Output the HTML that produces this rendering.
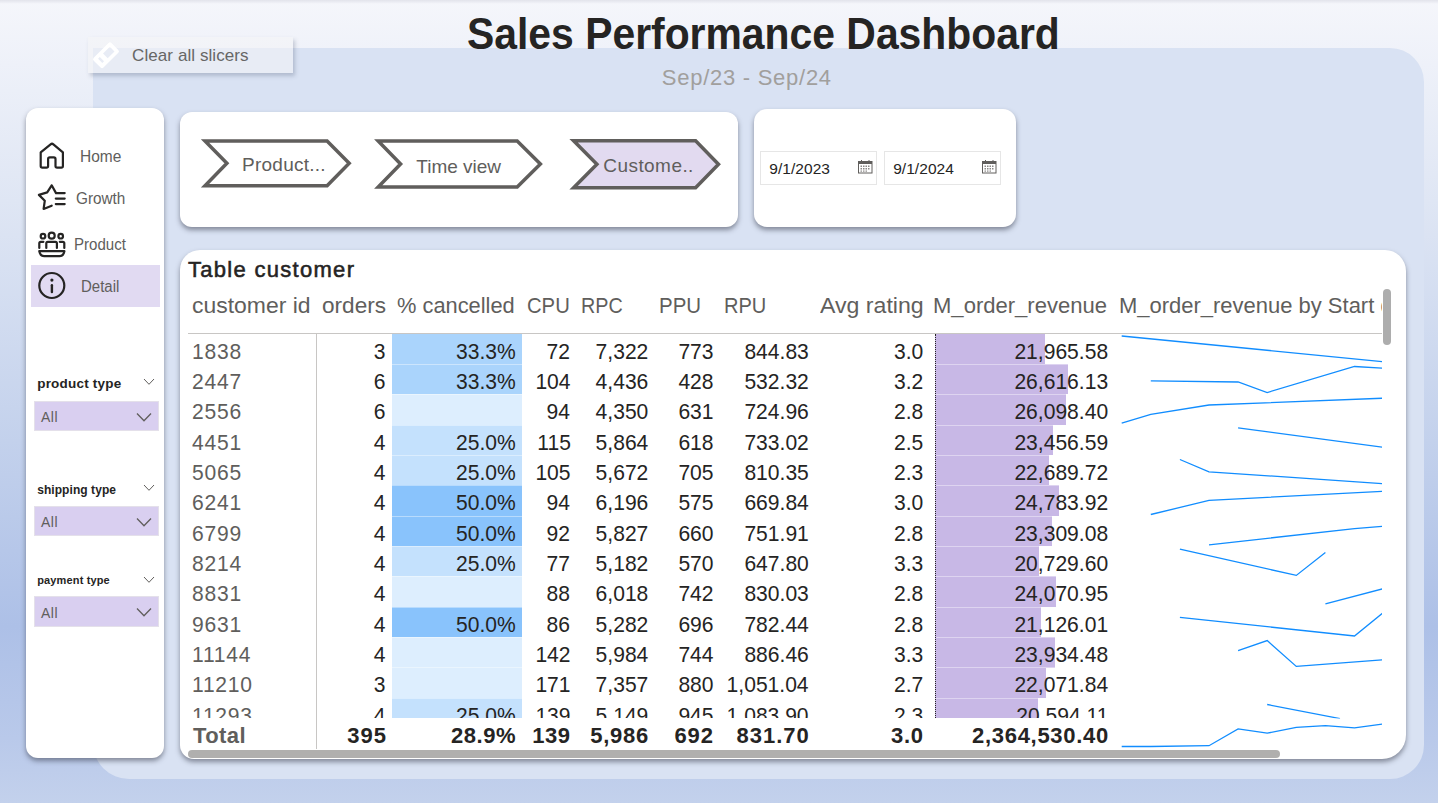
<!DOCTYPE html>
<html><head><meta charset="utf-8"><title>Sales Performance Dashboard</title>
<style>
*{margin:0;padding:0;box-sizing:border-box}
html,body{width:1438px;height:803px;overflow:hidden}
body{font-family:"Liberation Sans",sans-serif;position:relative;
background:linear-gradient(180deg,#f5f6fb 0%,#eef1f9 8%,#dfe6f4 25%,#c3d1ec 55%,#adc0e7 78%,#b9c9ea 92%,#c3d1ec 100%);}
.t{position:absolute;white-space:nowrap;line-height:normal}
.abs{position:absolute}
.card{position:absolute;background:#fff;box-shadow:0 3px 5px rgba(45,50,65,0.5)}
</style></head><body>

<div class="abs" style="left:0;top:0;width:1438px;height:4px;background:linear-gradient(180deg,#e2e3eb,rgba(240,242,249,0))"></div>
<div class="abs" style="left:93px;top:48px;width:1331px;height:731px;border-radius:0 34px 34px 36px;background:#d9e2f3"></div>
<div class="t" style="left:467.02px;top:9.53px;font-size:43.5px;color:#252423;font-weight:700;transform:scaleX(0.9395);transform-origin:0 0;">Sales Performance Dashboard</div>
<div class="t" style="left:661.80px;top:65.09px;font-size:22px;color:#a19f9d;font-weight:400;letter-spacing:0.736px;">Sep/23 - Sep/24</div>
<div class="abs" style="left:88px;top:37px;width:205px;height:36px;background:rgba(244,244,246,0.55);box-shadow:2px 3px 4px rgba(60,70,100,0.25)"></div>
<svg class="abs" style="left:88px;top:37px" width="40" height="36" viewBox="88 37 40 36">
<g transform="translate(106 55.3) rotate(-45)"><path fill="#fff" fill-rule="evenodd" d="M-10.5 -6.9 H10.5 Q12.5 -6.9 12.5 -4.9 V4.9 Q12.5 6.9 10.5 6.9 H-10.5 Q-12.5 6.9 -12.5 4.9 V-4.9 Q-12.5 -6.9 -10.5 -6.9 Z M-0.9 -3.3 V3.3 H8.7 V-3.3 Z M-8 -3.2 V2.8 H-5.6 V-3.2 Z"/></g></svg>
<div class="t" style="left:132.10px;top:46.32px;font-size:17px;color:#666666;font-weight:400;letter-spacing:0.075px;">Clear all slicers</div>
<div class="card" style="left:26px;top:108px;width:138px;height:650px;border-radius:12px"></div>
<div class="abs" style="left:31px;top:265px;width:129px;height:42px;background:#e1daf2"></div>
<svg class="abs" style="left:0;top:0" width="170" height="310" viewBox="0 0 170 310">
<path fill="none" stroke="#252423" stroke-width="2.2" stroke-linecap="round" stroke-linejoin="round" d="M40.7 152.3 L50.6 144.3 Q52 143.2 53.4 144.3 L62.9 152.3 L62.9 166 Q62.9 167.6 61.3 167.6 L57.1 167.6 Q55.5 167.6 55.5 166 L55.5 159 Q55.5 157.3 53.8 157.3 L49.8 157.3 Q48.1 157.3 48.1 159 L48.1 166 Q48.1 167.6 46.5 167.6 L42.3 167.6 Q40.7 167.6 40.7 166 Z"/>
<path fill="none" stroke="#252423" stroke-width="2.2" stroke-linecap="round" stroke-linejoin="round" d="M64.7 193.1 L56 193.1 L51.7 185.3 L47.2 192.4 L38.9 194.9 L44.8 200.7 L43.6 209 L51.7 205.7"/>
<path fill="none" stroke="#252423" stroke-width="2.2" stroke-linecap="round" stroke-linejoin="round" d="M55.8 198.6 L64.7 198.6 M55.8 204.1 L64.7 204.1"/>
<circle fill="none" stroke="#252423" stroke-width="2.2" stroke-linecap="round" stroke-linejoin="round" cx="43" cy="236.2" r="2.3"/>
<circle fill="none" stroke="#252423" stroke-width="2.2" stroke-linecap="round" stroke-linejoin="round" cx="51.7" cy="235.7" r="3"/>
<circle fill="none" stroke="#252423" stroke-width="2.2" stroke-linecap="round" stroke-linejoin="round" cx="60.7" cy="236.2" r="2.3"/>
<path fill="none" stroke="#252423" stroke-width="2.2" stroke-linecap="round" stroke-linejoin="round" d="M39.3 248 L39.3 243.3 Q39.3 241.8 40.8 241.8 L43.4 241.8 M46.3 248 L46.3 243.3 Q46.3 241.8 47.8 241.8 L55.4 241.8 Q56.9 241.8 56.9 243.3 L56.9 248 M59.8 241.8 L62.8 241.8 Q64.3 241.8 64.3 243.3 L64.3 248"/>
<path fill="none" stroke="#252423" stroke-width="2.2" stroke-linecap="round" stroke-linejoin="round" d="M39.3 251.2 L64.4 251.2 Q63.5 256.1 59.5 256.1 L44.2 256.1 Q40.2 256.1 39.3 251.2 Z"/>
<circle fill="none" stroke="#252423" stroke-width="2.2" stroke-linecap="round" stroke-linejoin="round" cx="51.8" cy="285.5" r="12.5"/>
<circle cx="51.9" cy="280.1" r="1.6" fill="#252423"/>
<path fill="none" stroke="#252423" stroke-width="2.4" stroke-linecap="round" d="M51.9 285.2 L51.9 292"/>
</svg>
<div class="t" style="left:79.52px;top:147.90px;font-size:15.8px;color:#605e5c;font-weight:400;transform:scaleX(0.9800);transform-origin:0 0;">Home</div>
<div class="t" style="left:75.53px;top:189.90px;font-size:15.8px;color:#605e5c;font-weight:400;transform:scaleX(0.9694);transform-origin:0 0;">Growth</div>
<div class="t" style="left:73.85px;top:235.90px;font-size:15.8px;color:#605e5c;font-weight:400;transform:scaleX(0.9528);transform-origin:0 0;">Product</div>
<div class="t" style="left:80.65px;top:277.60px;font-size:15.8px;color:#605e5c;font-weight:400;transform:scaleX(0.9487);transform-origin:0 0;">Detail</div>
<div class="t" style="left:37.20px;top:375.78px;font-size:13.5px;color:#252423;font-weight:700;letter-spacing:0.209px;">product type</div>
<svg class="abs" style="left:140px;top:376px" width="18" height="12" viewBox="0 0 18 12"><path d="M4 3 L9 8.3 L14 3" fill="none" stroke="#605e5c" stroke-width="1"/></svg>
<div class="abs" style="left:34px;top:400.5px;width:124.5px;height:30.2px;background:#d9cff0;border:1.5px solid #e4e0ea"></div>
<div class="t" style="left:41.00px;top:409.33px;font-size:14px;color:#605e5c;font-weight:400;letter-spacing:0.500px;">All</div>
<svg class="abs" style="left:133px;top:408.5px" width="22" height="16" viewBox="0 0 22 16"><path d="M4 4.5 L11 11.7 L18 4.5" fill="none" stroke="#605e5c" stroke-width="1.3"/></svg>
<div class="t" style="left:37.20px;top:482.54px;font-size:12px;color:#252423;font-weight:700;letter-spacing:0.067px;">shipping type</div>
<svg class="abs" style="left:140px;top:481.5px" width="18" height="12" viewBox="0 0 18 12"><path d="M4 3 L9 8.3 L14 3" fill="none" stroke="#605e5c" stroke-width="1"/></svg>
<div class="abs" style="left:34px;top:505.5px;width:124.5px;height:30px;background:#d9cff0;border:1.5px solid #e4e0ea"></div>
<div class="t" style="left:41.00px;top:514.33px;font-size:14px;color:#605e5c;font-weight:400;letter-spacing:0.500px;">All</div>
<svg class="abs" style="left:133px;top:513.5px" width="22" height="16" viewBox="0 0 22 16"><path d="M4 4.5 L11 11.7 L18 4.5" fill="none" stroke="#605e5c" stroke-width="1.3"/></svg>
<div class="t" style="left:37.20px;top:574.34px;font-size:11px;color:#252423;font-weight:700;letter-spacing:0.145px;">payment type</div>
<svg class="abs" style="left:140px;top:574px" width="18" height="12" viewBox="0 0 18 12"><path d="M4 3 L9 8.3 L14 3" fill="none" stroke="#605e5c" stroke-width="1"/></svg>
<div class="abs" style="left:34px;top:596px;width:124.5px;height:30.7px;background:#d9cff0;border:1.5px solid #e4e0ea"></div>
<div class="t" style="left:41.00px;top:604.83px;font-size:14px;color:#605e5c;font-weight:400;letter-spacing:0.500px;">All</div>
<svg class="abs" style="left:133px;top:604px" width="22" height="16" viewBox="0 0 22 16"><path d="M4 4.5 L11 11.7 L18 4.5" fill="none" stroke="#605e5c" stroke-width="1.3"/></svg>
<div class="card" style="left:180px;top:112px;width:558px;height:114.5px;border-radius:12px"></div>
<svg class="abs" style="left:0;top:0" width="760" height="240" viewBox="0 0 760 240"><path d="M205.0 140.9 L327.1 140.9 L349.2 163.3 L327.1 185.8 L205.0 185.8 L226.9 163.3 Z" fill="#fff" stroke="#605e5c" stroke-width="3.5" stroke-linejoin="miter"/><path d="M378.2 140.9 L517.2 140.9 L540.4 164.0 L517.2 187.1 L378.2 187.1 L400.6 164.0 Z" fill="#fff" stroke="#605e5c" stroke-width="3.5" stroke-linejoin="miter"/><path d="M573.6 140.8 L695.6 140.8 L718.5 164.3 L695.6 187.8 L573.6 187.8 L596.9 164.3 Z" fill="#e2daf0" stroke="#605e5c" stroke-width="3.5" stroke-linejoin="miter"/></svg>
<div class="t" style="left:242.00px;top:154.31px;font-size:19px;color:#605e5c;font-weight:400;letter-spacing:0.256px;">Product...</div>
<div class="t" style="left:416.30px;top:155.71px;font-size:19px;color:#605e5c;font-weight:400;letter-spacing:-0.013px;">Time view</div>
<div class="t" style="left:603.30px;top:155.41px;font-size:19px;color:#605e5c;font-weight:400;letter-spacing:0.438px;">Custome..</div>
<div class="card" style="left:754px;top:109px;width:262px;height:117.5px;border-radius:13px"></div>
<div class="abs" style="left:760px;top:150.6px;width:116.5px;height:34px;border:1px solid #e6e6e6"></div>
<div class="abs" style="left:884px;top:150.6px;width:116.5px;height:34px;border:1px solid #e6e6e6"></div>
<div class="t" style="left:769.30px;top:160.07px;font-size:15.5px;color:#252423;font-weight:400;letter-spacing:0.043px;">9/1/2023</div>
<div class="t" style="left:893.20px;top:160.07px;font-size:15.5px;color:#252423;font-weight:400;letter-spacing:0.043px;">9/1/2024</div>
<svg class="abs" style="left:858px;top:159.5px" width="15" height="14" viewBox="0 0 15 14">
<rect x="0.5" y="1.5" width="13.5" height="11.5" fill="none" stroke="#605e5c" stroke-width="1"/>
<rect x="0.5" y="1.5" width="13.5" height="2.5" fill="#605e5c"/>
<path d="M3.5 0 V2 M11 0 V2" stroke="#605e5c" stroke-width="1"/>
<g fill="#8a8886"><rect x="2.5" y="5.5" width="1.5" height="1.5"/><rect x="5" y="5.5" width="1.5" height="1.5"/><rect x="7.5" y="5.5" width="1.5" height="1.5"/><rect x="10" y="5.5" width="1.5" height="1.5"/>
<rect x="2.5" y="8" width="1.5" height="1.5"/><rect x="5" y="8" width="1.5" height="1.5"/><rect x="7.5" y="8" width="1.5" height="1.5"/><rect x="10" y="8" width="1.5" height="1.5"/>
<rect x="2.5" y="10.5" width="1.5" height="1.2"/><rect x="5" y="10.5" width="1.5" height="1.2"/><rect x="7.5" y="10.5" width="1.5" height="1.2"/></g></svg>
<svg class="abs" style="left:982px;top:159.5px" width="15" height="14" viewBox="0 0 15 14">
<rect x="0.5" y="1.5" width="13.5" height="11.5" fill="none" stroke="#605e5c" stroke-width="1"/>
<rect x="0.5" y="1.5" width="13.5" height="2.5" fill="#605e5c"/>
<path d="M3.5 0 V2 M11 0 V2" stroke="#605e5c" stroke-width="1"/>
<g fill="#8a8886"><rect x="2.5" y="5.5" width="1.5" height="1.5"/><rect x="5" y="5.5" width="1.5" height="1.5"/><rect x="7.5" y="5.5" width="1.5" height="1.5"/><rect x="10" y="5.5" width="1.5" height="1.5"/>
<rect x="2.5" y="8" width="1.5" height="1.5"/><rect x="5" y="8" width="1.5" height="1.5"/><rect x="7.5" y="8" width="1.5" height="1.5"/><rect x="10" y="8" width="1.5" height="1.5"/>
<rect x="2.5" y="10.5" width="1.5" height="1.2"/><rect x="5" y="10.5" width="1.5" height="1.2"/><rect x="7.5" y="10.5" width="1.5" height="1.2"/></g></svg>
<div class="card" style="left:180px;top:250px;width:1226px;height:509px;border-radius:20px 21px 24px 14px"></div>
<div class="t" style="left:187.90px;top:257.49px;font-size:22px;color:#252423;font-weight:400;letter-spacing:1.300px;-webkit-text-stroke:0.55px #252423;">Table customer</div>
<div class="t" style="left:192.16px;top:292.99px;font-size:22px;color:#605e5c;font-weight:400;transform:scaleX(1.0432);transform-origin:0 0;">customer id</div>
<div class="t" style="left:321.77px;top:292.99px;font-size:22px;color:#605e5c;font-weight:400;transform:scaleX(1.0262);transform-origin:0 0;">orders</div>
<div class="t" style="left:397.41px;top:292.99px;font-size:22px;color:#605e5c;font-weight:400;transform:scaleX(0.9922);transform-origin:0 0;">% cancelled</div>
<div class="t" style="left:526.78px;top:292.99px;font-size:22px;color:#605e5c;font-weight:400;transform:scaleX(0.9205);transform-origin:0 0;">CPU</div>
<div class="t" style="left:580.60px;top:292.99px;font-size:22px;color:#605e5c;font-weight:400;transform:scaleX(0.8977);transform-origin:0 0;">RPC</div>
<div class="t" style="left:658.54px;top:292.99px;font-size:22px;color:#605e5c;font-weight:400;transform:scaleX(0.9310);transform-origin:0 0;">PPU</div>
<div class="t" style="left:724.18px;top:292.99px;font-size:22px;color:#605e5c;font-weight:400;transform:scaleX(0.9116);transform-origin:0 0;">RPU</div>
<div class="t" style="left:819.80px;top:292.99px;font-size:22px;color:#605e5c;font-weight:400;transform:scaleX(1.0505);transform-origin:0 0;">Avg rating</div>
<div class="t" style="left:933.30px;top:292.99px;font-size:22px;color:#605e5c;font-weight:400;transform:scaleX(1.0023);transform-origin:0 0;">M_order_revenue</div>
<div class="abs" style="left:1120px;top:280px;width:262px;height:45px;overflow:hidden"><div class="t" style="left:-1.10px;top:12.99px;font-size:22px;color:#605e5c;font-weight:400;transform:scaleX(0.9988);transform-origin:0 0;">M_order_revenue by Start date</div></div>
<div class="abs" style="left:188px;top:332.5px;width:1194px;height:1px;background:#c8c6c4"></div>
<div class="abs" style="left:180px;top:333.5px;width:1210px;height:384.9px;overflow:hidden">
<div class="abs" style="left:212.2px;top:0.00px;width:129.7px;height:30.55px;background:#aad4fc"></div>
<div class="abs" style="left:755.3px;top:0.00px;width:109.9px;height:30.55px;background:#c8b8e6"></div>
<div class="t" style="left:12.3px;top:5.14px;font-size:22.5px;color:#605e5c;letter-spacing:0.8px;transform:scaleX(0.936);transform-origin:0 0">1838</div>
<div class="t" style="right:1004.0px;top:5.14px;font-size:22.5px;color:#252423;transform:scaleX(0.936);transform-origin:100% 0">3</div>
<div class="t" style="right:873.9px;top:5.14px;font-size:22.5px;color:#252423;transform:scaleX(0.936);transform-origin:100% 0">33.3%</div>
<div class="t" style="right:819.6px;top:5.14px;font-size:22.5px;color:#252423;transform:scaleX(0.936);transform-origin:100% 0">72</div>
<div class="t" style="right:742.1px;top:5.14px;font-size:22.5px;color:#252423;transform:scaleX(0.936);transform-origin:100% 0">7,322</div>
<div class="t" style="right:676.9px;top:5.14px;font-size:22.5px;color:#252423;transform:scaleX(0.936);transform-origin:100% 0">773</div>
<div class="t" style="right:581.5px;top:5.14px;font-size:22.5px;color:#252423;transform:scaleX(0.936);transform-origin:100% 0">844.83</div>
<div class="t" style="right:466.8px;top:5.14px;font-size:22.5px;color:#252423;transform:scaleX(0.936);transform-origin:100% 0">3.0</div>
<div class="t" style="right:282.0px;top:5.14px;font-size:22.5px;color:#252423;transform:scaleX(0.936);transform-origin:100% 0">21,965.58</div>
<div class="abs" style="left:212.2px;top:30.35px;width:129.7px;height:30.55px;background:#aad4fc"></div>
<div class="abs" style="left:755.3px;top:30.35px;width:133.2px;height:30.55px;background:#c8b8e6"></div>
<div class="abs" style="left:212.2px;top:30.35px;width:129.7px;height:1px;background:rgba(255,255,255,0.4)"></div>
<div class="abs" style="left:755.3px;top:30.35px;width:133.2px;height:1px;background:rgba(255,255,255,0.4)"></div>
<div class="t" style="left:12.3px;top:35.49px;font-size:22.5px;color:#605e5c;letter-spacing:0.8px;transform:scaleX(0.936);transform-origin:0 0">2447</div>
<div class="t" style="right:1004.0px;top:35.49px;font-size:22.5px;color:#252423;transform:scaleX(0.936);transform-origin:100% 0">6</div>
<div class="t" style="right:873.9px;top:35.49px;font-size:22.5px;color:#252423;transform:scaleX(0.936);transform-origin:100% 0">33.3%</div>
<div class="t" style="right:819.6px;top:35.49px;font-size:22.5px;color:#252423;transform:scaleX(0.936);transform-origin:100% 0">104</div>
<div class="t" style="right:742.1px;top:35.49px;font-size:22.5px;color:#252423;transform:scaleX(0.936);transform-origin:100% 0">4,436</div>
<div class="t" style="right:676.9px;top:35.49px;font-size:22.5px;color:#252423;transform:scaleX(0.936);transform-origin:100% 0">428</div>
<div class="t" style="right:581.5px;top:35.49px;font-size:22.5px;color:#252423;transform:scaleX(0.936);transform-origin:100% 0">532.32</div>
<div class="t" style="right:466.8px;top:35.49px;font-size:22.5px;color:#252423;transform:scaleX(0.936);transform-origin:100% 0">3.2</div>
<div class="t" style="right:282.0px;top:35.49px;font-size:22.5px;color:#252423;transform:scaleX(0.936);transform-origin:100% 0">26,616.13</div>
<div class="abs" style="left:212.2px;top:60.70px;width:129.7px;height:30.55px;background:#ddeefe"></div>
<div class="abs" style="left:755.3px;top:60.70px;width:130.6px;height:30.55px;background:#c8b8e6"></div>
<div class="abs" style="left:212.2px;top:60.70px;width:129.7px;height:1px;background:rgba(255,255,255,0.4)"></div>
<div class="abs" style="left:755.3px;top:60.70px;width:133.2px;height:1px;background:rgba(255,255,255,0.4)"></div>
<div class="t" style="left:12.3px;top:65.84px;font-size:22.5px;color:#605e5c;letter-spacing:0.8px;transform:scaleX(0.936);transform-origin:0 0">2556</div>
<div class="t" style="right:1004.0px;top:65.84px;font-size:22.5px;color:#252423;transform:scaleX(0.936);transform-origin:100% 0">6</div>
<div class="t" style="right:819.6px;top:65.84px;font-size:22.5px;color:#252423;transform:scaleX(0.936);transform-origin:100% 0">94</div>
<div class="t" style="right:742.1px;top:65.84px;font-size:22.5px;color:#252423;transform:scaleX(0.936);transform-origin:100% 0">4,350</div>
<div class="t" style="right:676.9px;top:65.84px;font-size:22.5px;color:#252423;transform:scaleX(0.936);transform-origin:100% 0">631</div>
<div class="t" style="right:581.5px;top:65.84px;font-size:22.5px;color:#252423;transform:scaleX(0.936);transform-origin:100% 0">724.96</div>
<div class="t" style="right:466.8px;top:65.84px;font-size:22.5px;color:#252423;transform:scaleX(0.936);transform-origin:100% 0">2.8</div>
<div class="t" style="right:282.0px;top:65.84px;font-size:22.5px;color:#252423;transform:scaleX(0.936);transform-origin:100% 0">26,098.40</div>
<div class="abs" style="left:212.2px;top:91.05px;width:129.7px;height:30.55px;background:#c4e1fd"></div>
<div class="abs" style="left:755.3px;top:91.05px;width:117.4px;height:30.55px;background:#c8b8e6"></div>
<div class="abs" style="left:212.2px;top:91.05px;width:129.7px;height:1px;background:rgba(255,255,255,0.4)"></div>
<div class="abs" style="left:755.3px;top:91.05px;width:130.6px;height:1px;background:rgba(255,255,255,0.4)"></div>
<div class="t" style="left:12.3px;top:96.19px;font-size:22.5px;color:#605e5c;letter-spacing:0.8px;transform:scaleX(0.936);transform-origin:0 0">4451</div>
<div class="t" style="right:1004.0px;top:96.19px;font-size:22.5px;color:#252423;transform:scaleX(0.936);transform-origin:100% 0">4</div>
<div class="t" style="right:873.9px;top:96.19px;font-size:22.5px;color:#252423;transform:scaleX(0.936);transform-origin:100% 0">25.0%</div>
<div class="t" style="right:819.6px;top:96.19px;font-size:22.5px;color:#252423;transform:scaleX(0.936);transform-origin:100% 0">115</div>
<div class="t" style="right:742.1px;top:96.19px;font-size:22.5px;color:#252423;transform:scaleX(0.936);transform-origin:100% 0">5,864</div>
<div class="t" style="right:676.9px;top:96.19px;font-size:22.5px;color:#252423;transform:scaleX(0.936);transform-origin:100% 0">618</div>
<div class="t" style="right:581.5px;top:96.19px;font-size:22.5px;color:#252423;transform:scaleX(0.936);transform-origin:100% 0">733.02</div>
<div class="t" style="right:466.8px;top:96.19px;font-size:22.5px;color:#252423;transform:scaleX(0.936);transform-origin:100% 0">2.5</div>
<div class="t" style="right:282.0px;top:96.19px;font-size:22.5px;color:#252423;transform:scaleX(0.936);transform-origin:100% 0">23,456.59</div>
<div class="abs" style="left:212.2px;top:121.40px;width:129.7px;height:30.55px;background:#c4e1fd"></div>
<div class="abs" style="left:755.3px;top:121.40px;width:113.5px;height:30.55px;background:#c8b8e6"></div>
<div class="abs" style="left:212.2px;top:121.40px;width:129.7px;height:1px;background:rgba(255,255,255,0.4)"></div>
<div class="abs" style="left:755.3px;top:121.40px;width:117.4px;height:1px;background:rgba(255,255,255,0.4)"></div>
<div class="t" style="left:12.3px;top:126.54px;font-size:22.5px;color:#605e5c;letter-spacing:0.8px;transform:scaleX(0.936);transform-origin:0 0">5065</div>
<div class="t" style="right:1004.0px;top:126.54px;font-size:22.5px;color:#252423;transform:scaleX(0.936);transform-origin:100% 0">4</div>
<div class="t" style="right:873.9px;top:126.54px;font-size:22.5px;color:#252423;transform:scaleX(0.936);transform-origin:100% 0">25.0%</div>
<div class="t" style="right:819.6px;top:126.54px;font-size:22.5px;color:#252423;transform:scaleX(0.936);transform-origin:100% 0">105</div>
<div class="t" style="right:742.1px;top:126.54px;font-size:22.5px;color:#252423;transform:scaleX(0.936);transform-origin:100% 0">5,672</div>
<div class="t" style="right:676.9px;top:126.54px;font-size:22.5px;color:#252423;transform:scaleX(0.936);transform-origin:100% 0">705</div>
<div class="t" style="right:581.5px;top:126.54px;font-size:22.5px;color:#252423;transform:scaleX(0.936);transform-origin:100% 0">810.35</div>
<div class="t" style="right:466.8px;top:126.54px;font-size:22.5px;color:#252423;transform:scaleX(0.936);transform-origin:100% 0">2.3</div>
<div class="t" style="right:282.0px;top:126.54px;font-size:22.5px;color:#252423;transform:scaleX(0.936);transform-origin:100% 0">22,689.72</div>
<div class="abs" style="left:212.2px;top:151.75px;width:129.7px;height:30.55px;background:#89c3fc"></div>
<div class="abs" style="left:755.3px;top:151.75px;width:124.0px;height:30.55px;background:#c8b8e6"></div>
<div class="abs" style="left:212.2px;top:151.75px;width:129.7px;height:1px;background:rgba(255,255,255,0.4)"></div>
<div class="abs" style="left:755.3px;top:151.75px;width:124.0px;height:1px;background:rgba(255,255,255,0.4)"></div>
<div class="t" style="left:12.3px;top:156.89px;font-size:22.5px;color:#605e5c;letter-spacing:0.8px;transform:scaleX(0.936);transform-origin:0 0">6241</div>
<div class="t" style="right:1004.0px;top:156.89px;font-size:22.5px;color:#252423;transform:scaleX(0.936);transform-origin:100% 0">4</div>
<div class="t" style="right:873.9px;top:156.89px;font-size:22.5px;color:#252423;transform:scaleX(0.936);transform-origin:100% 0">50.0%</div>
<div class="t" style="right:819.6px;top:156.89px;font-size:22.5px;color:#252423;transform:scaleX(0.936);transform-origin:100% 0">94</div>
<div class="t" style="right:742.1px;top:156.89px;font-size:22.5px;color:#252423;transform:scaleX(0.936);transform-origin:100% 0">6,196</div>
<div class="t" style="right:676.9px;top:156.89px;font-size:22.5px;color:#252423;transform:scaleX(0.936);transform-origin:100% 0">575</div>
<div class="t" style="right:581.5px;top:156.89px;font-size:22.5px;color:#252423;transform:scaleX(0.936);transform-origin:100% 0">669.84</div>
<div class="t" style="right:466.8px;top:156.89px;font-size:22.5px;color:#252423;transform:scaleX(0.936);transform-origin:100% 0">3.0</div>
<div class="t" style="right:282.0px;top:156.89px;font-size:22.5px;color:#252423;transform:scaleX(0.936);transform-origin:100% 0">24,783.92</div>
<div class="abs" style="left:212.2px;top:182.10px;width:129.7px;height:30.55px;background:#89c3fc"></div>
<div class="abs" style="left:755.3px;top:182.10px;width:116.6px;height:30.55px;background:#c8b8e6"></div>
<div class="abs" style="left:212.2px;top:182.10px;width:129.7px;height:1px;background:rgba(255,255,255,0.4)"></div>
<div class="abs" style="left:755.3px;top:182.10px;width:124.0px;height:1px;background:rgba(255,255,255,0.4)"></div>
<div class="t" style="left:12.3px;top:187.24px;font-size:22.5px;color:#605e5c;letter-spacing:0.8px;transform:scaleX(0.936);transform-origin:0 0">6799</div>
<div class="t" style="right:1004.0px;top:187.24px;font-size:22.5px;color:#252423;transform:scaleX(0.936);transform-origin:100% 0">4</div>
<div class="t" style="right:873.9px;top:187.24px;font-size:22.5px;color:#252423;transform:scaleX(0.936);transform-origin:100% 0">50.0%</div>
<div class="t" style="right:819.6px;top:187.24px;font-size:22.5px;color:#252423;transform:scaleX(0.936);transform-origin:100% 0">92</div>
<div class="t" style="right:742.1px;top:187.24px;font-size:22.5px;color:#252423;transform:scaleX(0.936);transform-origin:100% 0">5,827</div>
<div class="t" style="right:676.9px;top:187.24px;font-size:22.5px;color:#252423;transform:scaleX(0.936);transform-origin:100% 0">660</div>
<div class="t" style="right:581.5px;top:187.24px;font-size:22.5px;color:#252423;transform:scaleX(0.936);transform-origin:100% 0">751.91</div>
<div class="t" style="right:466.8px;top:187.24px;font-size:22.5px;color:#252423;transform:scaleX(0.936);transform-origin:100% 0">2.8</div>
<div class="t" style="right:282.0px;top:187.24px;font-size:22.5px;color:#252423;transform:scaleX(0.936);transform-origin:100% 0">23,309.08</div>
<div class="abs" style="left:212.2px;top:212.45px;width:129.7px;height:30.55px;background:#c4e1fd"></div>
<div class="abs" style="left:755.3px;top:212.45px;width:103.7px;height:30.55px;background:#c8b8e6"></div>
<div class="abs" style="left:212.2px;top:212.45px;width:129.7px;height:1px;background:rgba(255,255,255,0.4)"></div>
<div class="abs" style="left:755.3px;top:212.45px;width:116.6px;height:1px;background:rgba(255,255,255,0.4)"></div>
<div class="t" style="left:12.3px;top:217.59px;font-size:22.5px;color:#605e5c;letter-spacing:0.8px;transform:scaleX(0.936);transform-origin:0 0">8214</div>
<div class="t" style="right:1004.0px;top:217.59px;font-size:22.5px;color:#252423;transform:scaleX(0.936);transform-origin:100% 0">4</div>
<div class="t" style="right:873.9px;top:217.59px;font-size:22.5px;color:#252423;transform:scaleX(0.936);transform-origin:100% 0">25.0%</div>
<div class="t" style="right:819.6px;top:217.59px;font-size:22.5px;color:#252423;transform:scaleX(0.936);transform-origin:100% 0">77</div>
<div class="t" style="right:742.1px;top:217.59px;font-size:22.5px;color:#252423;transform:scaleX(0.936);transform-origin:100% 0">5,182</div>
<div class="t" style="right:676.9px;top:217.59px;font-size:22.5px;color:#252423;transform:scaleX(0.936);transform-origin:100% 0">570</div>
<div class="t" style="right:581.5px;top:217.59px;font-size:22.5px;color:#252423;transform:scaleX(0.936);transform-origin:100% 0">647.80</div>
<div class="t" style="right:466.8px;top:217.59px;font-size:22.5px;color:#252423;transform:scaleX(0.936);transform-origin:100% 0">3.3</div>
<div class="t" style="right:282.0px;top:217.59px;font-size:22.5px;color:#252423;transform:scaleX(0.936);transform-origin:100% 0">20,729.60</div>
<div class="abs" style="left:212.2px;top:242.80px;width:129.7px;height:30.55px;background:#ddeefe"></div>
<div class="abs" style="left:755.3px;top:242.80px;width:120.4px;height:30.55px;background:#c8b8e6"></div>
<div class="abs" style="left:212.2px;top:242.80px;width:129.7px;height:1px;background:rgba(255,255,255,0.4)"></div>
<div class="abs" style="left:755.3px;top:242.80px;width:120.4px;height:1px;background:rgba(255,255,255,0.4)"></div>
<div class="t" style="left:12.3px;top:247.94px;font-size:22.5px;color:#605e5c;letter-spacing:0.8px;transform:scaleX(0.936);transform-origin:0 0">8831</div>
<div class="t" style="right:1004.0px;top:247.94px;font-size:22.5px;color:#252423;transform:scaleX(0.936);transform-origin:100% 0">4</div>
<div class="t" style="right:819.6px;top:247.94px;font-size:22.5px;color:#252423;transform:scaleX(0.936);transform-origin:100% 0">88</div>
<div class="t" style="right:742.1px;top:247.94px;font-size:22.5px;color:#252423;transform:scaleX(0.936);transform-origin:100% 0">6,018</div>
<div class="t" style="right:676.9px;top:247.94px;font-size:22.5px;color:#252423;transform:scaleX(0.936);transform-origin:100% 0">742</div>
<div class="t" style="right:581.5px;top:247.94px;font-size:22.5px;color:#252423;transform:scaleX(0.936);transform-origin:100% 0">830.03</div>
<div class="t" style="right:466.8px;top:247.94px;font-size:22.5px;color:#252423;transform:scaleX(0.936);transform-origin:100% 0">2.8</div>
<div class="t" style="right:282.0px;top:247.94px;font-size:22.5px;color:#252423;transform:scaleX(0.936);transform-origin:100% 0">24,070.95</div>
<div class="abs" style="left:212.2px;top:273.15px;width:129.7px;height:30.55px;background:#89c3fc"></div>
<div class="abs" style="left:755.3px;top:273.15px;width:105.7px;height:30.55px;background:#c8b8e6"></div>
<div class="abs" style="left:212.2px;top:273.15px;width:129.7px;height:1px;background:rgba(255,255,255,0.4)"></div>
<div class="abs" style="left:755.3px;top:273.15px;width:120.4px;height:1px;background:rgba(255,255,255,0.4)"></div>
<div class="t" style="left:12.3px;top:278.29px;font-size:22.5px;color:#605e5c;letter-spacing:0.8px;transform:scaleX(0.936);transform-origin:0 0">9631</div>
<div class="t" style="right:1004.0px;top:278.29px;font-size:22.5px;color:#252423;transform:scaleX(0.936);transform-origin:100% 0">4</div>
<div class="t" style="right:873.9px;top:278.29px;font-size:22.5px;color:#252423;transform:scaleX(0.936);transform-origin:100% 0">50.0%</div>
<div class="t" style="right:819.6px;top:278.29px;font-size:22.5px;color:#252423;transform:scaleX(0.936);transform-origin:100% 0">86</div>
<div class="t" style="right:742.1px;top:278.29px;font-size:22.5px;color:#252423;transform:scaleX(0.936);transform-origin:100% 0">5,282</div>
<div class="t" style="right:676.9px;top:278.29px;font-size:22.5px;color:#252423;transform:scaleX(0.936);transform-origin:100% 0">696</div>
<div class="t" style="right:581.5px;top:278.29px;font-size:22.5px;color:#252423;transform:scaleX(0.936);transform-origin:100% 0">782.44</div>
<div class="t" style="right:466.8px;top:278.29px;font-size:22.5px;color:#252423;transform:scaleX(0.936);transform-origin:100% 0">2.8</div>
<div class="t" style="right:282.0px;top:278.29px;font-size:22.5px;color:#252423;transform:scaleX(0.936);transform-origin:100% 0">21,126.01</div>
<div class="abs" style="left:212.2px;top:303.50px;width:129.7px;height:30.55px;background:#ddeefe"></div>
<div class="abs" style="left:755.3px;top:303.50px;width:119.7px;height:30.55px;background:#c8b8e6"></div>
<div class="abs" style="left:212.2px;top:303.50px;width:129.7px;height:1px;background:rgba(255,255,255,0.4)"></div>
<div class="abs" style="left:755.3px;top:303.50px;width:119.7px;height:1px;background:rgba(255,255,255,0.4)"></div>
<div class="t" style="left:12.3px;top:308.64px;font-size:22.5px;color:#605e5c;letter-spacing:0.8px;transform:scaleX(0.936);transform-origin:0 0">11144</div>
<div class="t" style="right:1004.0px;top:308.64px;font-size:22.5px;color:#252423;transform:scaleX(0.936);transform-origin:100% 0">4</div>
<div class="t" style="right:819.6px;top:308.64px;font-size:22.5px;color:#252423;transform:scaleX(0.936);transform-origin:100% 0">142</div>
<div class="t" style="right:742.1px;top:308.64px;font-size:22.5px;color:#252423;transform:scaleX(0.936);transform-origin:100% 0">5,984</div>
<div class="t" style="right:676.9px;top:308.64px;font-size:22.5px;color:#252423;transform:scaleX(0.936);transform-origin:100% 0">744</div>
<div class="t" style="right:581.5px;top:308.64px;font-size:22.5px;color:#252423;transform:scaleX(0.936);transform-origin:100% 0">886.46</div>
<div class="t" style="right:466.8px;top:308.64px;font-size:22.5px;color:#252423;transform:scaleX(0.936);transform-origin:100% 0">3.3</div>
<div class="t" style="right:282.0px;top:308.64px;font-size:22.5px;color:#252423;transform:scaleX(0.936);transform-origin:100% 0">23,934.48</div>
<div class="abs" style="left:212.2px;top:333.85px;width:129.7px;height:30.55px;background:#ddeefe"></div>
<div class="abs" style="left:755.3px;top:333.85px;width:110.4px;height:30.55px;background:#c8b8e6"></div>
<div class="abs" style="left:212.2px;top:333.85px;width:129.7px;height:1px;background:rgba(255,255,255,0.4)"></div>
<div class="abs" style="left:755.3px;top:333.85px;width:119.7px;height:1px;background:rgba(255,255,255,0.4)"></div>
<div class="t" style="left:12.3px;top:338.99px;font-size:22.5px;color:#605e5c;letter-spacing:0.8px;transform:scaleX(0.936);transform-origin:0 0">11210</div>
<div class="t" style="right:1004.0px;top:338.99px;font-size:22.5px;color:#252423;transform:scaleX(0.936);transform-origin:100% 0">3</div>
<div class="t" style="right:819.6px;top:338.99px;font-size:22.5px;color:#252423;transform:scaleX(0.936);transform-origin:100% 0">171</div>
<div class="t" style="right:742.1px;top:338.99px;font-size:22.5px;color:#252423;transform:scaleX(0.936);transform-origin:100% 0">7,357</div>
<div class="t" style="right:676.9px;top:338.99px;font-size:22.5px;color:#252423;transform:scaleX(0.936);transform-origin:100% 0">880</div>
<div class="t" style="right:581.5px;top:338.99px;font-size:22.5px;color:#252423;transform:scaleX(0.936);transform-origin:100% 0">1,051.04</div>
<div class="t" style="right:466.8px;top:338.99px;font-size:22.5px;color:#252423;transform:scaleX(0.936);transform-origin:100% 0">2.7</div>
<div class="t" style="right:282.0px;top:338.99px;font-size:22.5px;color:#252423;transform:scaleX(0.936);transform-origin:100% 0">22,071.84</div>
<div class="abs" style="left:212.2px;top:364.20px;width:129.7px;height:30.55px;background:#c4e1fd"></div>
<div class="abs" style="left:755.3px;top:364.20px;width:103.0px;height:30.55px;background:#c8b8e6"></div>
<div class="abs" style="left:212.2px;top:364.20px;width:129.7px;height:1px;background:rgba(255,255,255,0.4)"></div>
<div class="abs" style="left:755.3px;top:364.20px;width:110.4px;height:1px;background:rgba(255,255,255,0.4)"></div>
<div class="t" style="left:12.3px;top:369.34px;font-size:22.5px;color:#605e5c;letter-spacing:0.8px;transform:scaleX(0.936);transform-origin:0 0">11293</div>
<div class="t" style="right:1004.0px;top:369.34px;font-size:22.5px;color:#252423;transform:scaleX(0.936);transform-origin:100% 0">4</div>
<div class="t" style="right:873.9px;top:369.34px;font-size:22.5px;color:#252423;transform:scaleX(0.936);transform-origin:100% 0">25.0%</div>
<div class="t" style="right:819.6px;top:369.34px;font-size:22.5px;color:#252423;transform:scaleX(0.936);transform-origin:100% 0">139</div>
<div class="t" style="right:742.1px;top:369.34px;font-size:22.5px;color:#252423;transform:scaleX(0.936);transform-origin:100% 0">5,149</div>
<div class="t" style="right:676.9px;top:369.34px;font-size:22.5px;color:#252423;transform:scaleX(0.936);transform-origin:100% 0">945</div>
<div class="t" style="right:581.5px;top:369.34px;font-size:22.5px;color:#252423;transform:scaleX(0.936);transform-origin:100% 0">1,083.90</div>
<div class="t" style="right:466.8px;top:369.34px;font-size:22.5px;color:#252423;transform:scaleX(0.936);transform-origin:100% 0">2.3</div>
<div class="t" style="right:282.0px;top:369.34px;font-size:22.5px;color:#252423;transform:scaleX(0.936);transform-origin:100% 0">20,594.11</div>
</div>
<div class="abs" style="left:934.8px;top:333.5px;width:0;height:384.9px;border-left:1px dotted #252423"></div>
<div class="abs" style="left:316px;top:333px;width:1px;height:415.5px;background:#c8c6c4"></div>
<div class="t" style="left:193.00px;top:722.79px;font-size:22px;color:#605e5c;font-weight:700;letter-spacing:0.400px;">Total</div>
<div class="t" style="left:347.20px;top:722.79px;font-size:22px;color:#252423;font-weight:700;letter-spacing:1.100px;">395</div>
<div class="t" style="left:451.00px;top:722.79px;font-size:22px;color:#252423;font-weight:700;letter-spacing:0.550px;">28.9%</div>
<div class="t" style="left:532.20px;top:722.79px;font-size:22px;color:#252423;font-weight:700;letter-spacing:0.600px;">139</div>
<div class="t" style="left:590.20px;top:722.79px;font-size:22px;color:#252423;font-weight:700;letter-spacing:0.775px;">5,986</div>
<div class="t" style="left:674.50px;top:722.79px;font-size:22px;color:#252423;font-weight:700;letter-spacing:0.850px;">692</div>
<div class="t" style="left:736.60px;top:722.79px;font-size:22px;color:#252423;font-weight:700;letter-spacing:0.980px;">831.70</div>
<div class="t" style="left:891.10px;top:722.79px;font-size:22px;color:#252423;font-weight:700;letter-spacing:0.600px;">3.0</div>
<div class="t" style="left:972.10px;top:722.79px;font-size:22px;color:#252423;font-weight:700;letter-spacing:0.691px;">2,364,530.40</div>
<svg class="abs" style="left:0;top:0" width="1438" height="803" viewBox="0 0 1438 803">
<defs><clipPath id="cb"><rect x="1100" y="333.5" width="282" height="384.9"/></clipPath><clipPath id="cb2"><rect x="1100" y="700" width="282" height="60"/></clipPath></defs><g clip-path="url(#cb)">
<polyline points="1121.7,336.0 1383.6,361.7" fill="none" stroke="#118dff" stroke-width="1.3" stroke-linejoin="miter"/>
<polyline points="1150.8,380.8 1238.1,382.0 1267.2,392.5 1354.5,366.5 1383.6,368.3" fill="none" stroke="#118dff" stroke-width="1.3" stroke-linejoin="miter"/>
<polyline points="1121.7,423.2 1150.8,414.3 1209.0,405.0 1383.6,398.2" fill="none" stroke="#118dff" stroke-width="1.3" stroke-linejoin="miter"/>
<polyline points="1238.1,427.8 1383.6,447.4" fill="none" stroke="#118dff" stroke-width="1.3" stroke-linejoin="miter"/>
<polyline points="1179.9,459.5 1209.0,471.8 1383.6,483.7" fill="none" stroke="#118dff" stroke-width="1.3" stroke-linejoin="miter"/>
<polyline points="1150.8,514.5 1209.0,500.4 1383.6,491.3" fill="none" stroke="#118dff" stroke-width="1.3" stroke-linejoin="miter"/>
<polyline points="1209.0,544.8 1354.5,528.6 1383.6,526.2" fill="none" stroke="#118dff" stroke-width="1.3" stroke-linejoin="miter"/>
<polyline points="1179.9,549.2 1296.3,575.4 1325.4,552.4" fill="none" stroke="#118dff" stroke-width="1.3" stroke-linejoin="miter"/>
<polyline points="1325.4,603.9 1383.6,588.6" fill="none" stroke="#118dff" stroke-width="1.3" stroke-linejoin="miter"/>
<polyline points="1179.9,617.4 1354.5,636.0 1383.6,612.3" fill="none" stroke="#118dff" stroke-width="1.3" stroke-linejoin="miter"/>
<polyline points="1238.1,650.7 1267.2,640.6 1296.3,666.4 1383.6,659.7" fill="none" stroke="#118dff" stroke-width="1.3" stroke-linejoin="miter"/>
<polyline points="1267.2,704.5 1340.0,718.6" fill="none" stroke="#118dff" stroke-width="1.3" stroke-linejoin="miter"/>
</g>
<polyline clip-path="url(#cb2)" points="1121.7,746.5 1150.8,746.5 1209.0,745.7 1238.1,728.9 1267.2,733.2 1296.3,727.3 1325.4,725.7 1354.5,727.9 1383.6,723.9" fill="none" stroke="#118dff" stroke-width="1.3"/>
</svg>
<div class="abs" style="left:1383.3px;top:289px;width:7.5px;height:55.6px;border-radius:4px;background:#adadad"></div>
<div class="abs" style="left:187.7px;top:750px;width:1092.5px;height:7.8px;border-radius:4px;background:#b0afae"></div>
</body></html>
